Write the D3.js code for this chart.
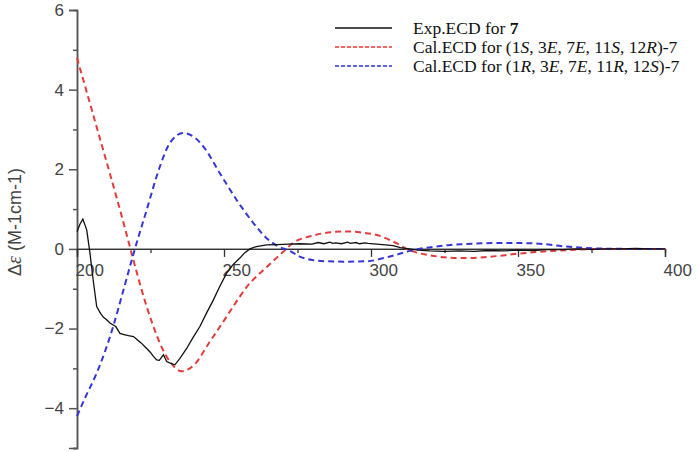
<!DOCTYPE html>
<html><head><meta charset="utf-8">
<script src="https://cdn.jsdelivr.net/npm/d3@7"></script>
<style>body{margin:0;background:#fff}svg{display:block}</style>
</head><body>
<svg id="c" width="699" height="452"></svg>
<script>
// wavelength (nm) / delta-epsilon
const expX = [200,201,202,203.3,204.4,205.5,206.7,208,209,210.1,211.2,212.3,213.2,214.6,216,217.5,219.2,220.5,221.8,223.7,225,226,227.1,228,229.4,230.5,231.5,233.3,235,237.3,239.5,241.8,244,246.4,248.5,250.9,253,255.4,257,258.8,261,264.5,268,272,276,280,282,284,286,287,288,290,292,293,295,296,298,299,302,305,307.5,310,313,316,320,325,330,335,340,345,350,355,360,365,370,375,380,385,390,395,400];
const expY = [0.43,0.62,0.75,0.48,-0.1,-0.78,-1.45,-1.62,-1.72,-1.78,-1.86,-1.91,-1.95,-2.12,-2.15,-2.18,-2.2,-2.28,-2.36,-2.5,-2.6,-2.7,-2.79,-2.8,-2.66,-2.83,-2.86,-2.91,-2.75,-2.5,-2.22,-1.95,-1.62,-1.28,-0.95,-0.61,-0.4,-0.23,-0.1,0,0.06,0.1,0.11,0.12,0.13,0.12,0.16,0.13,0.17,0.14,0.15,0.13,0.17,0.14,0.16,0.13,0.15,0.14,0.12,0.1,0.08,0.03,0.0,-0.03,-0.05,-0.06,-0.05,-0.06,-0.04,-0.05,-0.03,-0.04,-0.02,-0.02,0.0,-0.01,0.0,0.0,0.01,0.0,0.0];
const redX = [200,205,210,212.3,215,218,220,223.7,226,228.2,231.6,235.6,240,245,250,253,257.8,264.6,270,273.5,280,288,292,297,302,306.5,309,312,316,320,325,332,340,350,360,370,380,390,400];
const redY = [4.8,3.5,2.2,1.6,0.88,0.05,-0.5,-1.45,-1.95,-2.37,-2.83,-3.07,-2.9,-2.35,-1.8,-1.46,-0.95,-0.45,-0.08,0.15,0.33,0.43,0.44,0.41,0.35,0.22,0.13,0.0,-0.1,-0.16,-0.21,-0.23,-0.2,-0.12,-0.06,-0.02,0,0,0];
const blueX = [200,203,206.7,212.3,215.8,219.5,223.7,228.2,231.6,236.2,240,243,248.6,254.3,260,264.5,268,272.4,276,280,285,292,298.5,306.5,313.3,318,322,327,332,338,345,355,366.5,378,390,400];
const blueY = [-4.2,-3.7,-3.12,-1.95,-1.03,-0.05,0.98,2.07,2.66,2.91,2.8,2.57,1.9,1.23,0.65,0.27,0.08,-0.05,-0.2,-0.28,-0.31,-0.32,-0.31,-0.19,-0.05,0.02,0.06,0.1,0.12,0.14,0.15,0.14,0.06,0.01,0,0];
const xTicks = [200,250,300,350,400];
const xMinor = [225,275,325,375];
const yTicks = [-4,-2,0,2,4,6];
const yMinor = [-5,-3,-1,1,3,5];
const legendLabels = ["Exp.ECD for 7","Cal.ECD for (1S, 3E, 7E, 11S, 12R)-7","Cal.ECD for (1R, 3E, 7E, 11R, 12S)-7"];

const svg = d3.select("#c");
const x = d3.scaleLinear().domain([200,400]).range([77,665]);
const y = d3.scaleLinear().domain([-5,6]).range([448,10]);
const axisCol = "#555", txtCol = "#444";

// y axis
const gy = svg.append("g").attr("transform","translate(77,0)");
gy.call(d3.axisLeft(y).tickValues(yTicks).tickSize(8).tickFormat(d3.format("d")));
gy.append("g").call(d3.axisLeft(y).tickValues(yMinor).tickSize(4).tickFormat(""));
gy.selectAll("path.domain").attr("stroke",axisCol).attr("stroke-width",1.5);
gy.selectAll(".tick line").attr("stroke",axisCol).attr("stroke-width",1.5);
gy.selectAll(".tick text").attr("font-family","'Liberation Sans',Arial,sans-serif").attr("font-size",17).attr("fill",txtCol).attr("x",-13);

// x axis at y=0
const gx = svg.append("g").attr("transform",`translate(0,${y(0)})`);
gx.call(d3.axisBottom(x).tickValues(xTicks).tickSize(8).tickFormat(d3.format("d")));
gx.append("g").call(d3.axisBottom(x).tickValues(xMinor).tickSize(4).tickFormat(""));
gx.selectAll("path.domain").attr("stroke","#333").attr("stroke-width",1.3);
gx.selectAll(".tick line").attr("stroke","#333").attr("stroke-width",1.3);
gx.selectAll(".tick text").attr("font-family","'Liberation Sans',Arial,sans-serif").attr("font-size",17).attr("fill",txtCol).attr("text-anchor","start").attr("x",-2).attr("y",15);

// y title
const yt = svg.append("text").attr("transform","translate(21,222) rotate(-90)").attr("text-anchor","middle")
  .attr("font-family","'Liberation Sans',Arial,sans-serif").attr("font-size",18).attr("fill",txtCol);
yt.append("tspan").text("Δ");
yt.append("tspan").attr("font-style","italic").attr("font-family","'Liberation Serif',serif").attr("font-size",20).text("ε");
yt.append("tspan").text(" (M-1cm-1)");

const line = (xs,ys,curve) => d3.line().x((d,i)=>x(xs[i])).y(d=>y(d)).curve(curve)(ys);
svg.append("path").attr("d",line(redX,redY,d3.curveMonotoneX)).attr("fill","none").attr("stroke","#e33b3b").attr("stroke-width",2).attr("stroke-dasharray","6,4");
svg.append("path").attr("d",line(blueX,blueY,d3.curveMonotoneX)).attr("fill","none").attr("stroke","#3535d8").attr("stroke-width",2).attr("stroke-dasharray","6,4");
svg.append("path").attr("d",line(expX,expY,d3.curveLinear)).attr("fill","none").attr("stroke","#111").attr("stroke-width",1.3);

// legend
const lg = svg.append("g");
const styles = [{c:"#111",d:"none",w:1.6},{c:"#f03030",d:"4,2",w:1.6},{c:"#3030e0",d:"4,2",w:1.6}];
const rowsY = [28,47,66];
styles.forEach((s,i)=>{
  lg.append("path").attr("d",`M335,${rowsY[i]}H392`).attr("fill","none").style("stroke",s.c).style("stroke-width",s.w).style("stroke-dasharray",s.d);
});
function addLabel(str, yy, boldLast){
  const t = lg.append("text").attr("x",413).attr("y",yy+6).attr("font-family","'Liberation Serif','Times New Roman',serif").attr("font-size",17.5).attr("fill","#111");
  if(boldLast){
    t.append("tspan").text(str.slice(0,-1));
    t.append("tspan").attr("font-weight","bold").text(str.slice(-1));
    return;
  }
  let m, re=/(\d+)([SER])/g, last=0;
  while((m=re.exec(str))){
    t.append("tspan").text(str.slice(last,m.index)+m[1]);
    t.append("tspan").attr("font-style","italic").text(m[2]);
    last = re.lastIndex;
  }
  t.append("tspan").text(str.slice(last));
}
addLabel(legendLabels[0],rowsY[0],true);
addLabel(legendLabels[1],rowsY[1],false);
addLabel(legendLabels[2],rowsY[2],false);
</script>
</body></html>
